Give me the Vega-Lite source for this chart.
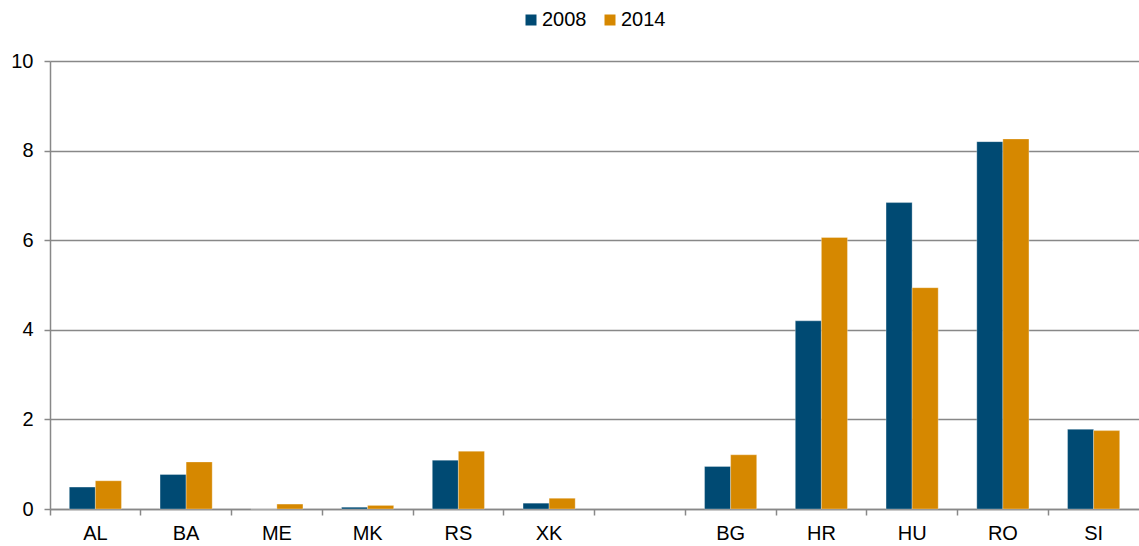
{
  "$schema": "https://vega.github.io/schema/vega-lite/v6.json",
  "width": 1089,
  "height": 448,
  "autosize": {"type": "none"},
  "padding": {"left": 50, "top": 61, "right": 0, "bottom": 37},
  "background": "white",
  "config": {
    "view": {"stroke": null},
    "font": "Liberation Sans",
    "axis": {"labelFont": "Liberation Sans", "labelColor": "#000000", "labelFontSize": 20, "domainColor": "#888888", "tickColor": "#888888", "gridColor": "#888888", "tickSize": 6, "domainWidth": 1.5, "gridWidth": 1.5, "tickWidth": 1.5},
    "legend": {"labelFont": "Liberation Sans", "labelFontSize": 20, "labelColor": "#000000"}
  },
  "data": {
    "values": [
      {"c": "AL", "year": "2008", "v": 0.49},
      {"c": "AL", "year": "2014", "v": 0.63},
      {"c": "BA", "year": "2008", "v": 0.77},
      {"c": "BA", "year": "2014", "v": 1.05},
      {"c": "ME", "year": "2008", "v": 0},
      {"c": "ME", "year": "2014", "v": 0.11},
      {"c": "MK", "year": "2008", "v": 0.04},
      {"c": "MK", "year": "2014", "v": 0.08},
      {"c": "RS", "year": "2008", "v": 1.09},
      {"c": "RS", "year": "2014", "v": 1.29},
      {"c": "XK", "year": "2008", "v": 0.13},
      {"c": "XK", "year": "2014", "v": 0.24},
      {"c": "BG", "year": "2008", "v": 0.95},
      {"c": "BG", "year": "2014", "v": 1.21},
      {"c": "HR", "year": "2008", "v": 4.2},
      {"c": "HR", "year": "2014", "v": 6.06},
      {"c": "HU", "year": "2008", "v": 6.84},
      {"c": "HU", "year": "2014", "v": 4.94},
      {"c": "RO", "year": "2008", "v": 8.2},
      {"c": "RO", "year": "2014", "v": 8.26},
      {"c": "SI", "year": "2008", "v": 1.78},
      {"c": "SI", "year": "2014", "v": 1.75}
    ]
  },
  "mark": {"type": "bar", "stroke": "#ffffff", "strokeWidth": 0.5, "strokeOpacity": 0.6},
  "encoding": {
    "x": {
      "field": "c",
      "type": "nominal",
      "scale": {"domain": ["AL", "BA", "ME", "MK", "RS", "XK", " ", "BG", "HR", "HU", "RO", "SI"], "paddingInner": 0, "paddingOuter": 0},
      "axis": {"title": null, "labelAngle": 0, "bandPosition": 0, "labelPadding": 8, "grid": false}
    },
    "xOffset": {
      "field": "year",
      "type": "nominal",
      "scale": {"domain": ["2008", "2014"], "paddingInner": 0, "paddingOuter": 0.74}
    },
    "y": {
      "field": "v",
      "type": "quantitative",
      "scale": {"domain": [0, 10], "nice": false},
      "axis": {"title": null, "values": [0, 2, 4, 6, 8, 10], "grid": true, "labelPadding": 11}
    },
    "color": {
      "field": "year",
      "type": "nominal",
      "scale": {"domain": ["2008", "2014"], "range": ["#004a73", "#d68800"]},
      "legend": {"title": null, "orient": "none", "direction": "horizontal", "legendX": 471, "legendY": -51, "symbolType": "square", "symbolSize": 121, "symbolStrokeWidth": 0, "labelOffset": 1, "columnPadding": 13}
    }
  }
}
